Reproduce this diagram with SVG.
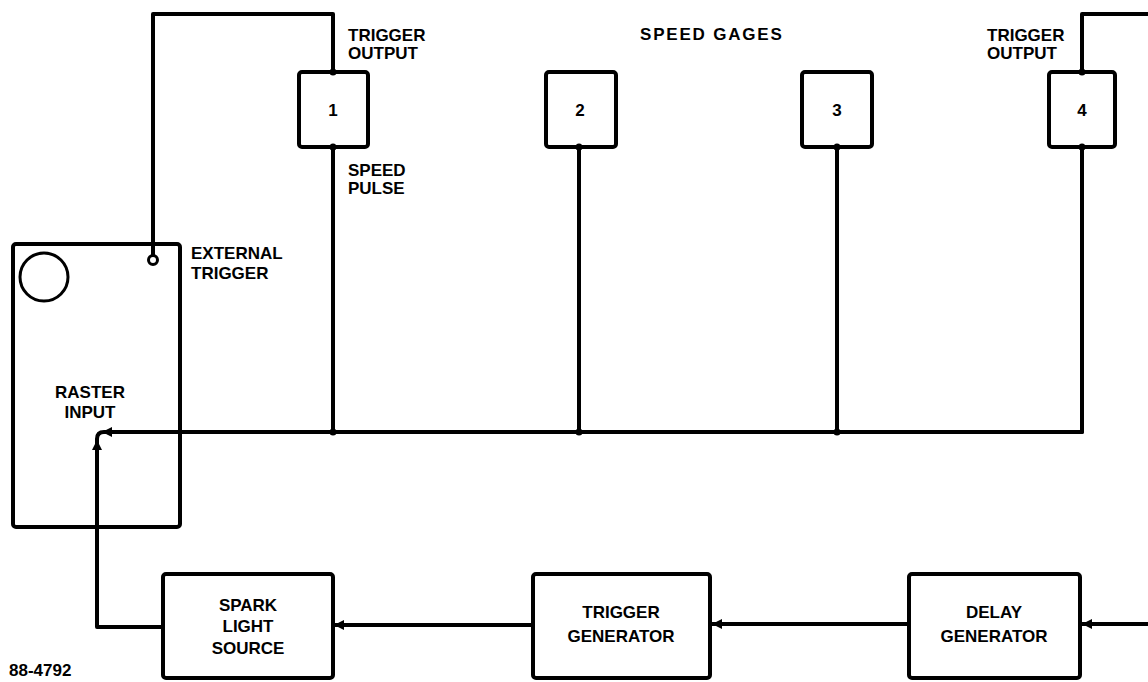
<svg xmlns="http://www.w3.org/2000/svg" width="1148" height="682" viewBox="0 0 1148 682">
<defs>
<style>
.box{fill:none;stroke:#000;stroke-width:4;stroke-linejoin:round}
.ln{fill:none;stroke:#000;stroke-width:4;stroke-linejoin:round;stroke-linecap:round}
.t{font-family:"Liberation Sans",Arial,sans-serif;font-weight:bold;font-size:17px;fill:#000}
.c{text-anchor:middle}
.e{text-anchor:end}
.ah{fill:#000}
</style>
</defs>
<rect width="1148" height="682" fill="#fff"/>
<g id="connectors">
<path class="ln" d="M333,72 V14 H153 V256"/>
<path class="ln" d="M1082,72 V14 H1148"/>
<path class="ln" d="M333,147 V432"/>
<path class="ln" d="M579,147 V432"/>
<path class="ln" d="M837,147 V432"/>
<path class="ln" d="M1082,147 V432"/>
<path class="ln" d="M1082,432 H104 Q97,432 97,439 V627 H163"/>
<path class="ln" d="M533,625 H333"/>
<path class="ln" d="M909,624 H710"/>
<path class="ln" d="M1148,624 H1080"/>
<circle cx="153" cy="260" r="4.5" fill="#fff" stroke="#000" stroke-width="3"/>
<circle cx="333" cy="432" r="3.5" class="ah"/>
<circle cx="579" cy="432" r="3.5" class="ah"/>
<circle cx="837" cy="432" r="3.5" class="ah"/>
<circle cx="333" cy="147" r="3.5" class="ah"/>
<circle cx="579" cy="147" r="3.5" class="ah"/>
<circle cx="837" cy="147" r="3.5" class="ah"/>
<circle cx="1082" cy="147" r="3.5" class="ah"/>
<circle cx="333" cy="72" r="3.5" class="ah"/>
<circle cx="1082" cy="72" r="3.5" class="ah"/>
<polygon class="ah" points="102,432 112,427 112,437"/>
<polygon class="ah" points="97,440 92,450 102,450"/>
<polygon class="ah" points="334,625 344,620 344,630"/>
<polygon class="ah" points="712,624 722,619 722,629"/>
<polygon class="ah" points="1082,624 1092,619 1092,629"/>
</g>
<g id="raster">
<rect class="box" x="13" y="244" width="167" height="283" rx="3"/>
<circle cx="44" cy="277" r="24" fill="none" stroke="#000" stroke-width="3"/>
<text class="t c" x="90" y="398">RASTER</text>
<text class="t c" x="90" y="418">INPUT</text>
<text class="t" x="191" y="259">EXTERNAL</text>
<text class="t" x="191" y="279">TRIGGER</text>
</g>
<g id="gage1">
<rect class="box" x="299" y="72" width="69" height="75" rx="3"/>
<text class="t c" x="333" y="116">1</text>
<text class="t" x="348" y="41">TRIGGER</text>
<text class="t" x="348" y="59">OUTPUT</text>
<text class="t" x="348" y="176">SPEED</text>
<text class="t" x="348" y="194">PULSE</text>
</g>
<g id="gage2">
<rect class="box" x="546" y="72" width="70" height="75" rx="3"/>
<text class="t c" x="580" y="116">2</text>
</g>
<g id="gage3">
<rect class="box" x="802" y="72" width="70" height="75" rx="3"/>
<text class="t c" x="837" y="116">3</text>
</g>
<g id="gage4">
<rect class="box" x="1049" y="72" width="66" height="75" rx="3"/>
<text class="t c" x="1082" y="116">4</text>
<text class="t" x="987" y="41">TRIGGER</text>
<text class="t" x="987" y="59">OUTPUT</text>
</g>
<g id="title">
<text class="t" x="640" y="40" letter-spacing="1.8">SPEED GAGES</text>
</g>
<g id="spark">
<rect class="box" x="163" y="574" width="170" height="104" rx="3"/>
<text class="t c" x="248" y="611">SPARK</text>
<text class="t c" x="248" y="632">LIGHT</text>
<text class="t c" x="248" y="654">SOURCE</text>
</g>
<g id="trigger-generator">
<rect class="box" x="533" y="574" width="177" height="104" rx="3"/>
<text class="t c" x="621" y="618">TRIGGER</text>
<text class="t c" x="621" y="642">GENERATOR</text>
</g>
<g id="delay-generator">
<rect class="box" x="909" y="574" width="171" height="104" rx="3"/>
<text class="t c" x="994" y="618">DELAY</text>
<text class="t c" x="994" y="642">GENERATOR</text>
</g>
<text class="t" x="9" y="676" font-size="13">88-4792</text>
</svg>
